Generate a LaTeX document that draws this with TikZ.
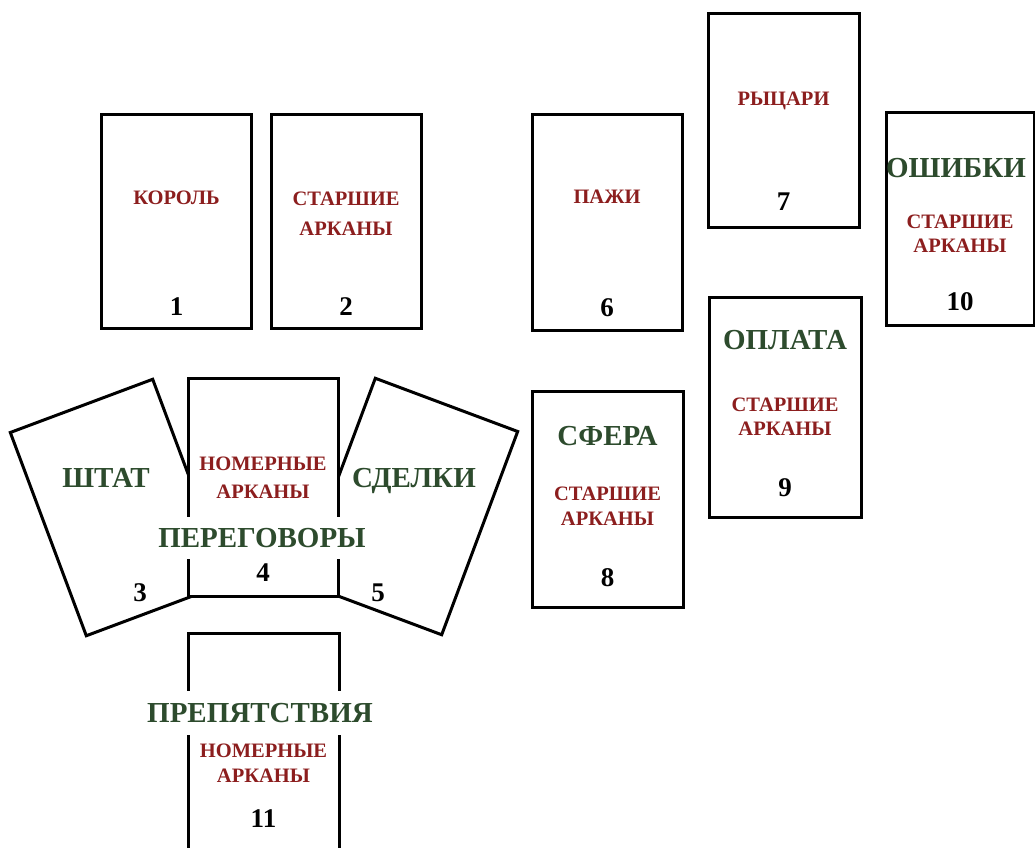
\documentclass[tikz,border=0pt]{standalone}
\usepackage{fontspec}
\setmainfont{Liberation Serif}
\definecolor{cardred}{RGB}{140,30,30}
\definecolor{cardgreen}{RGB}{45,75,45}
\tikzset{
  card/.style={draw=black, line width=3pt, fill=white, rectangle, inner sep=0pt},
  redtxt/.style={text=cardred, font=\bfseries\fontsize{20.5}{24}\selectfont, inner sep=0pt, text height=13.6pt, text depth=0pt},
  greentxt/.style={text=cardgreen, font=\bfseries\fontsize{29}{34}\selectfont, inner sep=0pt, text height=19.2pt, text depth=0pt},
  numtxt/.style={text=black, font=\bfseries\fontsize{27}{32}\selectfont, inner sep=0pt, text height=18.2pt, text depth=0pt},
}
\begin{document}
\begin{tikzpicture}[x=1pt,y=-1pt]
\useasboundingbox (0,0) rectangle (1035,847);
\fill[white] (0,0) rectangle (1035,847);

% top row
\node[card, minimum width=150pt, minimum height=214pt] (c1) at (176.5,221.5) {};
\node[redtxt] (t1a) at (176.5,198) {КОРОЛЬ};
\node[numtxt] (n1) at (176.5,306) {1};

\node[card, minimum width=150pt, minimum height=214pt] (c2) at (346,221.5) {};
\node[redtxt] (t2a) at (346,199) {СТАРШИЕ};
\node[redtxt] (t2b) at (346,229) {АРКАНЫ};
\node[numtxt] (n2) at (346,306) {2};

\node[card, minimum width=150pt, minimum height=216pt] (c6) at (607,222) {};
\node[redtxt] (t6a) at (607,197) {ПАЖИ};
\node[numtxt] (n6) at (607,307) {6};

\node[card, minimum width=151pt, minimum height=214pt] (c7) at (783.5,120) {};
\node[redtxt] (t7a) at (783.5,98.5) {РЫЦАРИ};
\node[numtxt] (n7) at (783.5,201) {7};

\node[card, minimum width=148pt, minimum height=213pt] (c10) at (960,218.5) {};
\node[greentxt] (t10g) at (956,168) {ОШИБКИ};
\node[redtxt] (t10a) at (960,222) {СТАРШИЕ};
\node[redtxt] (t10b) at (960,246) {АРКАНЫ};
\node[numtxt] (n10) at (960,301) {10};

\node[card, minimum width=152pt, minimum height=220pt] (c9) at (785,407.5) {};
\node[greentxt] (t9g) at (785,340) {ОПЛАТА};
\node[redtxt] (t9a) at (785,405) {СТАРШИЕ};
\node[redtxt] (t9b) at (785,429) {АРКАНЫ};
\node[numtxt] (n9) at (785,487) {9};

\node[card, minimum width=151pt, minimum height=216pt] (c8) at (607.5,499) {};
\node[greentxt] (t8g) at (607.5,436) {СФЕРА};
\node[redtxt] (t8a) at (607.5,494) {СТАРШИЕ};
\node[redtxt] (t8b) at (607.5,519) {АРКАНЫ};
\node[numtxt] (n8) at (607.5,577) {8};

% cross of cards 3,4,5
\node[card, minimum width=152pt, minimum height=217pt, rotate=20.5] (c3) at (119.5,507.5) {};
\node[card, minimum width=152pt, minimum height=217pt, rotate=-20.5] (c5) at (408.5,506.5) {};
\node[card, minimum width=150pt, minimum height=218pt] (c4) at (263,487) {};
\node[greentxt] (t3g) at (106,478) {ШТАТ};
\node[numtxt] (n3) at (140,592) {3};
\node[greentxt] (t5g) at (414,478) {СДЕЛКИ};
\node[numtxt] (n5) at (378,592) {5};
\node[redtxt] (t4a) at (263,464) {НОМЕРНЫЕ};
\node[redtxt] (t4b) at (263,492) {АРКАНЫ};
\node[greentxt, fill=white, inner xsep=1pt, inner ysep=11pt] (t4g) at (262,538) {ПЕРЕГОВОРЫ};
\node[numtxt] (n4) at (263,572) {4};

% card 11
\begin{scope}
\clip (0,0) rectangle (1035,847);
\node[card, minimum width=151pt, minimum height=218pt] (c11) at (263.5,742.5) {};
\end{scope}
\node[greentxt, fill=white, inner xsep=1pt, inner ysep=12pt] (t11g) at (260,713) {ПРЕПЯТСТВИЯ};
\node[redtxt] (t11a) at (263.5,751) {НОМЕРНЫЕ};
\node[redtxt] (t11b) at (263.5,776) {АРКАНЫ};
\node[numtxt] (n11) at (263.5,818) {11};
\end{tikzpicture}
\end{document}
